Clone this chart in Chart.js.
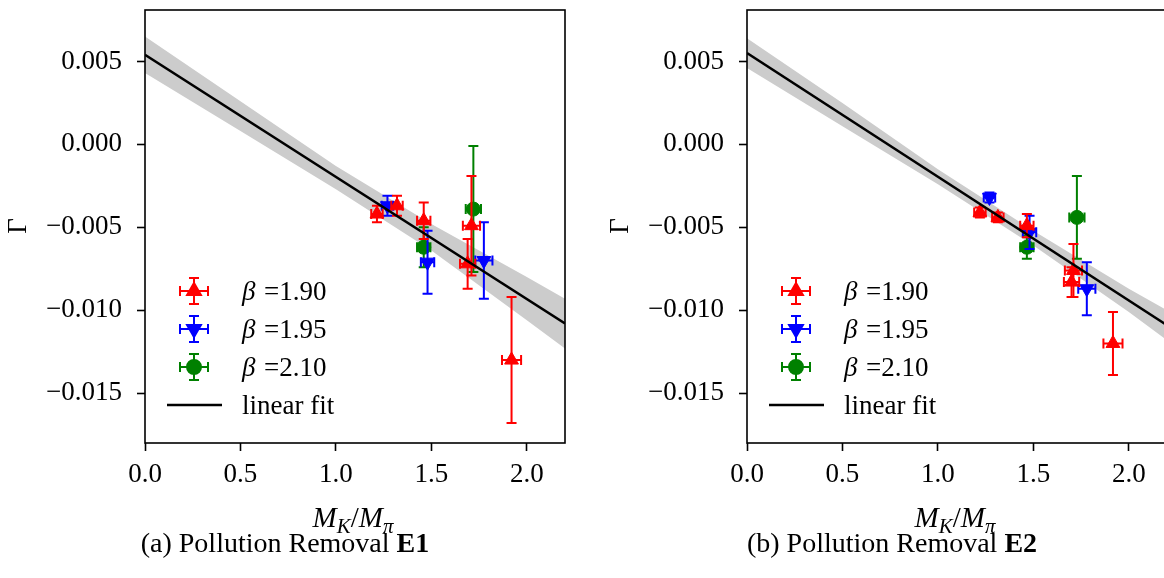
<!DOCTYPE html>
<html>
<head>
<meta charset="utf-8">
<script src="https://cdn.jsdelivr.net/npm/chart.js@4/dist/chart.umd.min.js"></script>
<style>
  html, body { margin: 0; padding: 0; background: #fff; overflow: hidden; }
  body { width: 1164px; height: 578px; position: relative; font-family: "Liberation Serif", serif; color: #000; }
  canvas { position: absolute; top: 0; }
  .lbl { position: absolute; white-space: nowrap; }
  .ctr { text-align: center; width: 400px; }
  .ylab { font-size: 27px; line-height: 27px; transform: translate(-50%, -50%) rotate(-90deg); }
  .xlab { font-size: 29px; line-height: 29px; }
  .cap { font-size: 28px; line-height: 28px; }
  sub { font-size: 72%; vertical-align: -0.3em; line-height: 0; }
</style>
</head>
<body>
<canvas id="e1" width="582" height="578" style="left:0px"></canvas>
<canvas id="e2" width="600" height="578" style="left:582px"></canvas>

<div class="lbl ylab" style="left:17px; top:226px">Γ</div>
<div class="lbl ylab" style="left:619px; top:226px">Γ</div>
<div class="lbl ctr xlab" style="left:153px; top:503px"><i>M</i><sub><i>K</i></sub>/<i>M</i><sub><i>π</i></sub></div>
<div class="lbl ctr xlab" style="left:755px; top:503px"><i>M</i><sub><i>K</i></sub>/<i>M</i><sub><i>π</i></sub></div>
<div class="lbl ctr cap" style="left:85px; top:529px">(a) Pollution Removal <b>E1</b></div>
<div class="lbl ctr cap" style="left:692px; top:529px">(b) Pollution Removal <b>E2</b></div>

<script>
// E1: pollution removal, first method
const e1_b190_x    = [1.215, 1.32, 1.46, 1.71, 1.69, 1.92];
const e1_b190_y    = [-0.0042, -0.0037, -0.0046, -0.0049, -0.0072, -0.0130];
const e1_b190_xerr = [0.03, 0.03, 0.035, 0.045, 0.04, 0.05];
const e1_b190_yerr = [0.0005, 0.0006, 0.0011, 0.0030, 0.0015, 0.0038];

const e1_b195_x    = [1.27, 1.48, 1.775];
const e1_b195_y    = [-0.0037, -0.0071, -0.0070];
const e1_b195_xerr = [0.03, 0.035, 0.045];
const e1_b195_yerr = [0.0006, 0.0019, 0.0023];

const e1_b210_x    = [1.46, 1.72];
const e1_b210_y    = [-0.0062, -0.0039];
const e1_b210_xerr = [0.035, 0.04];
const e1_b210_yerr = [0.0012, 0.0038];

// E2: pollution removal, second method
const e2_b190_x    = [1.22, 1.314, 1.466, 1.71, 1.70, 1.917];
const e2_b190_y    = [-0.0041, -0.0044, -0.0049, -0.0076, -0.0083, -0.0120];
const e2_b190_xerr = [0.03, 0.03, 0.035, 0.045, 0.04, 0.05];
const e2_b190_yerr = [0.0003, 0.0003, 0.0007, 0.0016, 0.0009, 0.0019];

const e2_b195_x    = [1.27, 1.48, 1.78];
const e2_b195_y    = [-0.0032, -0.0053, -0.0087];
const e2_b195_xerr = [0.03, 0.035, 0.045];
const e2_b195_yerr = [0.0003, 0.0010, 0.0016];

const e2_b210_x    = [1.466, 1.728];
const e2_b210_y    = [-0.0062, -0.0044];
const e2_b210_xerr = [0.035, 0.04];
const e2_b210_yerr = [0.0007, 0.0025];

// linear fit and its confidence band
const fitX   = [0, 2.2];
const e1FitY = [0.0054, -0.0108];
const e2FitY = [0.0055, -0.0109];

const bandX    = [0, 0.5, 1.0, 1.5, 2.0, 2.2];
const e1BandHi = [0.0065, 0.0026, -0.0013, -0.0048, -0.0080, -0.0093];
const e1BandLo = [0.0043, 0.0008, -0.0027, -0.0064, -0.0106, -0.0123];
const e2BandHi = [0.0064, 0.0025, -0.0015, -0.0052, -0.0087, -0.0100];
const e2BandLo = [0.0046, 0.0011, -0.0024, -0.0061, -0.0101, -0.0118];

const betaLabels = ['1.90', '1.95', '2.10'];
const xTicks = [0, 0.5, 1.0, 1.5, 2.0];
const yTicks = [-0.015, -0.010, -0.005, 0.000, 0.005];

const FONT = '"Liberation Serif", serif';
const FS = 27;
const styles = [
    { color: '#ff0000', pointStyle: 'triangle', rotation: 0,   radius: 8 },
    { color: '#0000ff', pointStyle: 'triangle', rotation: 180, radius: 8 },
    { color: '#008000', pointStyle: 'circle',   rotation: 0,   radius: 7 }
];

function zipPoints(xs, ys, xe, ye) {
    return xs.map((x, i) => ({ x: x, y: ys[i], xerr: xe[i], yerr: ye[i] }));
}
function zipXY(xs, ys) {
    return xs.map((x, i) => ({ x: x, y: ys[i] }));
}

function drawBar(ctx, x0, y0, x1, y1, horiz) {
    const cap = 5;
    ctx.beginPath();
    ctx.moveTo(x0, y0);
    ctx.lineTo(x1, y1);
    if (horiz) {
        ctx.moveTo(x0, y0 - cap); ctx.lineTo(x0, y0 + cap);
        ctx.moveTo(x1, y1 - cap); ctx.lineTo(x1, y1 + cap);
    } else {
        ctx.moveTo(x0 - cap, y0); ctx.lineTo(x0 + cap, y0);
        ctx.moveTo(x1 - cap, y1); ctx.lineTo(x1 + cap, y1);
    }
    ctx.stroke();
}

// error bars go under each marker dataset
const errorBars = {
    id: 'errorBars',
    beforeDatasetDraw(chart, args) {
        const ds = chart.data.datasets[args.index];
        if (!ds.errors) return;
        const xs = chart.scales.x, ys = chart.scales.y, ctx = chart.ctx;
        ctx.save();
        ctx.strokeStyle = ds.borderColor;
        ctx.lineWidth = 2;
        ds.data.forEach(p => {
            const cx = xs.getPixelForValue(p.x), cy = ys.getPixelForValue(p.y);
            drawBar(ctx, xs.getPixelForValue(p.x - p.xerr), cy, xs.getPixelForValue(p.x + p.xerr), cy, true);
            drawBar(ctx, cx, ys.getPixelForValue(p.y + p.yerr), cx, ys.getPixelForValue(p.y - p.yerr), false);
        });
        ctx.restore();
    }
};

// box around the plot area plus the legend
const frameAndLegend = {
    id: 'frameAndLegend',
    afterDraw(chart) {
        const a = chart.chartArea, ctx = chart.ctx;
        ctx.save();
        ctx.strokeStyle = '#000';
        ctx.lineWidth = 1.6;
        ctx.strokeRect(a.left, a.top, a.right - a.left, a.bottom - a.top);

        const mx = a.left + 49, tx = a.left + 97;
        const rows = [291, 329, 367, 405];
        styles.forEach((s, i) => {
            const y = rows[i];
            ctx.strokeStyle = s.color;
            ctx.fillStyle = s.color;
            ctx.lineWidth = 2;
            drawBar(ctx, mx - 14, y, mx + 14, y, true);
            drawBar(ctx, mx, y - 13, mx, y + 13, false);
            Chart.helpers.drawPoint(ctx, { pointStyle: s.pointStyle, rotation: s.rotation, radius: s.radius, borderWidth: 1 }, mx, y);
            ctx.fillStyle = '#000';
            ctx.textBaseline = 'alphabetic';
            ctx.font = 'italic ' + FS + 'px ' + FONT;
            ctx.fillText('β', tx, y + 9);
            ctx.font = FS + 'px ' + FONT;
            ctx.fillText('=' + betaLabels[i], tx + 22, y + 9);
        });
        ctx.strokeStyle = '#000';
        ctx.lineWidth = 2.5;
        ctx.beginPath();
        ctx.moveTo(a.left + 22, rows[3]);
        ctx.lineTo(a.left + 77, rows[3]);
        ctx.stroke();
        ctx.fillStyle = '#000';
        ctx.font = FS + 'px ' + FONT;
        ctx.fillText('linear fit', tx, rows[3] + 9);
        ctx.restore();
    }
};

function fmtY(v) {
    if (Math.abs(v) < 1e-9) return '0.000';
    return (v < 0 ? '\u2212' : '') + Math.abs(v).toFixed(3);
}

function makeChart(id, series, fitY, bandHi, bandLo, yAxisWidth, padRight) {
    const datasets = [{
        data: zipXY(fitX, fitY),
        showLine: true,
        borderColor: '#000',
        borderWidth: 2.5,
        pointRadius: 0
    }];
    series.forEach((s, i) => {
        const st = styles[i];
        datasets.push({
            data: s,
            errors: true,
            pointStyle: st.pointStyle,
            rotation: st.rotation,
            pointRadius: st.radius,
            backgroundColor: st.color,
            borderColor: st.color,
            borderWidth: 1
        });
    });
    datasets.push({
        data: zipXY(bandX, bandHi),
        showLine: true,
        borderWidth: 0,
        pointRadius: 0,
        fill: '+1',
        backgroundColor: '#cccccc'
    });
    datasets.push({
        data: zipXY(bandX, bandLo),
        showLine: true,
        borderWidth: 0,
        pointRadius: 0,
        backgroundColor: '#cccccc'
    });

    const tickGrid = { drawOnChartArea: false, drawTicks: true, tickLength: 8, tickColor: '#000', tickWidth: 1.6 };

    return new Chart(document.getElementById(id), {
        type: 'scatter',
        data: { datasets: datasets },
        options: {
            responsive: false,
            animation: false,
            layout: { padding: { top: 10, right: padRight, bottom: 0, left: 0 } },
            plugins: { legend: { display: false }, tooltip: { enabled: false } },
            scales: {
                x: {
                    type: 'linear', min: 0, max: 2.2,
                    afterFit: s => { s.height = 135; s.paddingLeft = 0; s.paddingRight = 0; },
                    afterBuildTicks: s => { s.ticks = xTicks.map(v => ({ value: v })); },
                    grid: tickGrid,
                    border: { display: false },
                    ticks: { color: '#000', font: { family: FONT, size: FS }, padding: 8, maxRotation: 0,
                             callback: v => v.toFixed(1) }
                },
                y: {
                    type: 'linear', min: -0.018, max: 0.0081,
                    afterFit: s => { s.width = yAxisWidth; s.paddingTop = 0; s.paddingBottom = 0; },
                    afterBuildTicks: s => { s.ticks = yTicks.map(v => ({ value: v })); },
                    grid: tickGrid,
                    border: { display: false },
                    ticks: { color: '#000', font: { family: FONT, size: FS }, padding: 15,
                             callback: v => fmtY(v) }
                }
            }
        },
        plugins: [errorBars, frameAndLegend]
    });
}

makeChart('e1', [
    zipPoints(e1_b190_x, e1_b190_y, e1_b190_xerr, e1_b190_yerr),
    zipPoints(e1_b195_x, e1_b195_y, e1_b195_xerr, e1_b195_yerr),
    zipPoints(e1_b210_x, e1_b210_y, e1_b210_xerr, e1_b210_yerr)
], e1FitY, e1BandHi, e1BandLo, 145, 17);

makeChart('e2', [
    zipPoints(e2_b190_x, e2_b190_y, e2_b190_xerr, e2_b190_yerr),
    zipPoints(e2_b195_x, e2_b195_y, e2_b195_xerr, e2_b195_yerr),
    zipPoints(e2_b210_x, e2_b210_y, e2_b210_xerr, e2_b210_yerr)
], e2FitY, e2BandHi, e2BandLo, 165, 15);
</script>
</body>
</html>
